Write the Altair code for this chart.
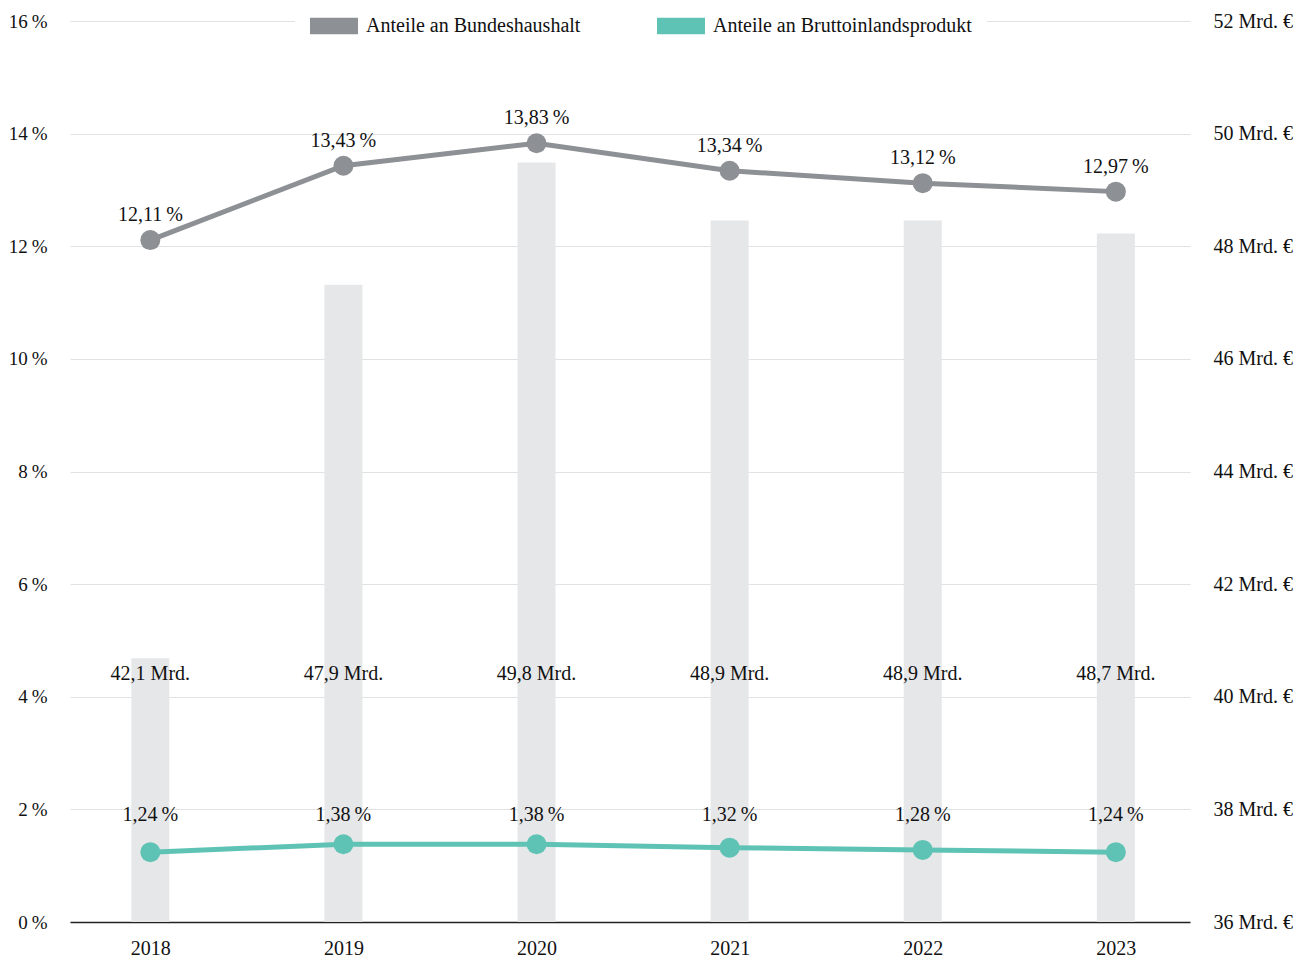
import altair as alt
import pandas as pd

years = ["2018", "2019", "2020", "2021", "2022", "2023"]
haushalt = [12.11, 13.43, 13.83, 13.34, 13.12, 12.97]
bip = [1.24, 1.38, 1.38, 1.32, 1.28, 1.24]
mrd = [42.1, 47.9, 49.8, 48.9, 48.9, 48.7]
series_names = ["Anteile an Bundeshaushalt", "Anteile an Bruttoinlandsprodukt"]
series_colors = ["#8D9094", "#5EC3B5"]
left_ticks = [0, 2, 4, 6, 8, 10, 12, 14, 16]
right_ticks = [36, 38, 40, 42, 44, 46, 48, 50, 52]

FONT = "Liberation Serif"
FS = 20


def de(v, d):
    return f"{v:.{d}f}".replace(".", ",")


bars = pd.DataFrame({"year": years, "mrd": mrd,
                     "label": [de(v, 1) + " Mrd." for v in mrd]})
rows = []
for i, y in enumerate(years):
    rows.append({"year": y, "series": series_names[0], "pct": haushalt[i],
                 "label": de(haushalt[i], 2) + "\u2009%"})
    rows.append({"year": y, "series": series_names[1], "pct": bip[i],
                 "label": de(bip[i], 2) + "\u2009%"})
lines = pd.DataFrame(rows)
axis_df = pd.DataFrame({"v": [right_ticks[0], right_ticks[-1]]})

xscale = alt.Scale(type="point", domain=years, padding=0.4, align=0.52)
xenc = alt.X("year:N", scale=xscale,
             axis=alt.Axis(title=None, labelAngle=0, ticks=False, domain=True,
                           domainColor="#222222", domainWidth=1.5,
                           labelPadding=16, labelFontSize=FS, labelFont=FONT,
                           labelColor="#111111", grid=False))

color = alt.Color("series:N",
                  scale=alt.Scale(domain=series_names, range=series_colors),
                  legend=alt.Legend(title=None, orient="none", direction="horizontal",
                                    legendX=225, legendY=-34,
                                    fillColor="white", padding=15,
                                    symbolType="M-1,-0.34H1V0.34H-1Z",
                                    symbolSize=2304, symbolStrokeWidth=0,
                                    symbolOpacity=1,
                                    labelFont=FONT, labelFontSize=FS,
                                    labelColor="#111111", labelLimit=500,
                                    labelOffset=8, columnPadding=76))

bar_layer = alt.Chart(bars).mark_bar(size=38, color="#E6E7E9", clip=True).encode(
    x=xenc,
    y=alt.Y("mrd:Q", scale=alt.Scale(domain=[38, 52], zero=False), axis=None),
)
bar_text = alt.Chart(bars).mark_text(font=FONT, fontSize=FS, color="#111111",
                                     baseline="middle").encode(
    x=xenc, y=alt.value(653), text="label:N")

ysc = alt.Scale(domain=[0, 16], nice=False)
yenc = alt.Y("pct:Q", scale=ysc,
             axis=alt.Axis(title=None, values=left_ticks, ticks=False, domain=False,
                           grid=True, gridColor="#E2E2E2", gridWidth=1,
                           labelPadding=23, labelFont=FONT, labelFontSize=19,
                           labelColor="#111111",
                           labelExpr="datum.value + '\u2009%'"))

line_layer = alt.Chart(lines).mark_line(strokeWidth=5).encode(
    x=xenc, y=yenc, color=color)
pt_layer = alt.Chart(lines).mark_circle(size=400, opacity=1).encode(
    x=xenc, y=yenc, color=color)
top_text = alt.Chart(lines).transform_filter(
    alt.datum.series == series_names[0]).mark_text(
    font=FONT, fontSize=FS, color="#111111", dy=-25, baseline="middle").encode(
    x=xenc, y=yenc, text="label:N")
bot_text = alt.Chart(lines).transform_filter(
    alt.datum.series == series_names[1]).mark_text(
    font=FONT, fontSize=FS, color="#111111", baseline="middle").encode(
    x=xenc, y=alt.value(794), text="label:N")

pct_layer = alt.layer(line_layer, pt_layer, top_text, bot_text, bar_text)

right_axis = alt.Chart(axis_df).mark_point(opacity=0).encode(
    y=alt.Y("v:Q", scale=alt.Scale(domain=[36, 52], nice=False, zero=False),
            axis=alt.Axis(title=None, orient="right", values=right_ticks, ticks=False,
                          domain=False, grid=False, labelPadding=23,
                          labelFont=FONT, labelFontSize=FS, labelColor="#111111",
                          labelExpr="datum.value + ' Mrd. €'")))

chart = alt.layer(bar_layer, pct_layer, right_axis).resolve_scale(
    y="independent").properties(
    width=1120, height=901,
    autosize=alt.AutoSizeParams(type="none"),
    padding={"left": 62, "top": 13, "right": 115, "bottom": 45},
).configure_view(stroke=None)

chart.save("out.html", embed_options={"renderer": "svg", "actions": False})
